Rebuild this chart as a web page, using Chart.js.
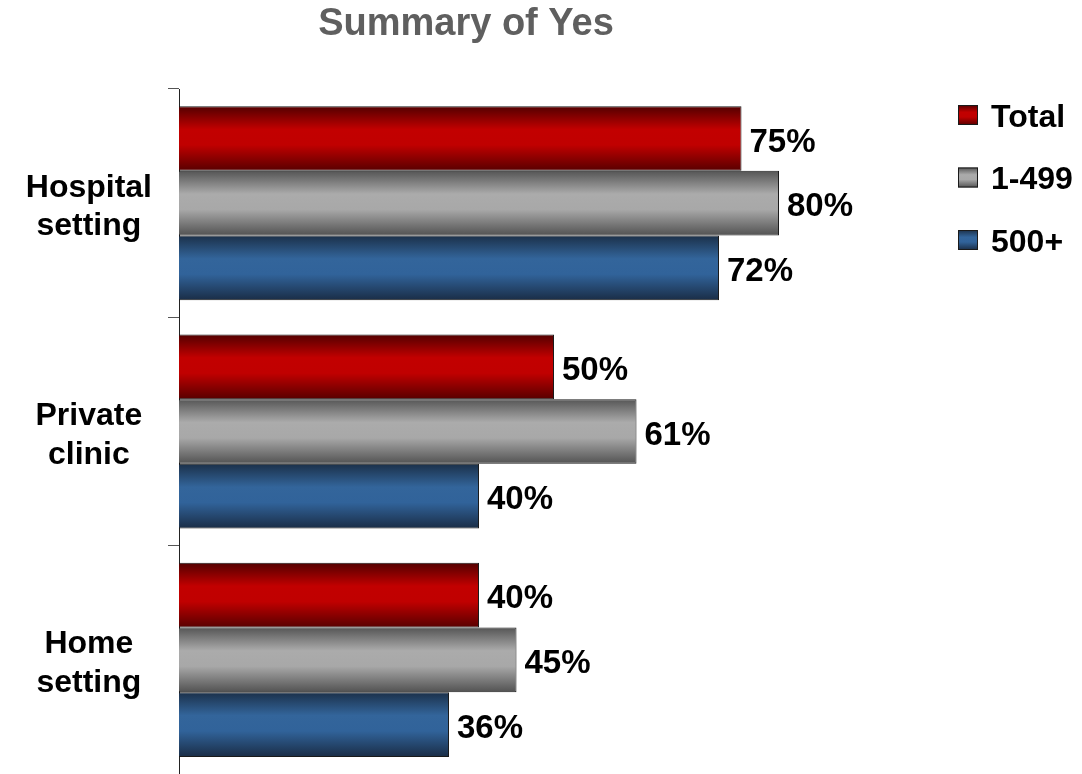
<!DOCTYPE html>
<html>
<head>
<meta charset="utf-8">
<title>Summary of Yes</title>
<script src="https://cdn.jsdelivr.net/npm/chart.js@4.4.1/dist/chart.umd.min.js"></script>
<style>
  html, body { margin: 0; padding: 0; background: #ffffff; }
  #wrap { width: 1082px; height: 774px; position: relative; }
</style>
</head>
<body>
<div id="wrap"><canvas id="chart"></canvas></div>
<script>
// Survey categories (two-line axis labels) and the three respondent groups
const categories = [['Hospital', 'setting'], ['Private', 'clinic'], ['Home', 'setting']];
const seriesNames = ['Total', '1-499', '500+'];
const totalValues = [75, 50, 40];
const smallValues = [80, 61, 45];
const largeValues = [72, 40, 36];
const chartTitle = 'Summary of Yes';

const FONT = '"Liberation Sans", Arial, Helvetica, sans-serif';

// Shaded "cylinder" fills: dark edge -> bright middle -> dark edge
const shades = [
  ['#520000', '#c20000', '#c00000', '#580000'],
  ['#555555', '#ababab', '#a8a8a8', '#525252'],
  ['#1b3049', '#33659b', '#31639a', '#1a2d46']
];

const CAT_PCT = 0.85;

function shadedFill(stops, y0, y1, ctx) {
  const g = ctx.createLinearGradient(0, y0, 0, y1);
  g.addColorStop(0, stops[0]);
  g.addColorStop(0.36, stops[1]);
  g.addColorStop(0.6, stops[2]);
  g.addColorStop(1, stops[3]);
  return g;
}

// Gradient for each bar, spanning that bar's own thickness
function barFill(seriesIdx) {
  return (c) => {
    const chart = c.chart;
    const ys = chart.scales.y;
    const stops = shades[seriesIdx];
    if (c.type !== 'data' || !ys || !chart.chartArea) return stops[1];
    const n = chart.data.datasets.length;
    const band = Math.abs(ys.getPixelForValue(1) - ys.getPixelForValue(0));
    const thick = band * CAT_PCT / n;
    const center = ys.getPixelForValue(c.dataIndex) + (c.datasetIndex - (n - 1) / 2) * thick;
    return shadedFill(stops, center - thick / 2, center + thick / 2, chart.ctx);
  };
}

// Chart heading, placed over the plot
const headingPlugin = {
  id: 'heading',
  afterDraw(chart) {
    const ctx = chart.ctx;
    ctx.save();
    ctx.font = 'bold 38px ' + FONT;
    ctx.fillStyle = '#5f5f5f';
    ctx.textAlign = 'center';
    ctx.textBaseline = 'middle';
    ctx.fillText(chartTitle, 466, 25);
    ctx.restore();
  }
};

// Value labels at the end of each bar
const valueLabelPlugin = {
  id: 'valueLabels',
  afterDatasetsDraw(chart) {
    const ctx = chart.ctx;
    ctx.save();
    ctx.font = 'bold 33px ' + FONT;
    ctx.fillStyle = '#000000';
    ctx.textAlign = 'left';
    ctx.textBaseline = 'middle';
    chart.data.datasets.forEach((ds, di) => {
      const meta = chart.getDatasetMeta(di);
      if (meta.hidden) return;
      meta.data.forEach((el, i) => {
        ctx.fillText(ds.data[i] + '%', el.x + 8, el.y + 4);
      });
    });
    ctx.restore();
  }
};

// Legend with shaded swatches on the right
const swatchLegendPlugin = {
  id: 'swatchLegend',
  afterDraw(chart) {
    const ctx = chart.ctx;
    const x = 958, box = 20, firstY = 115, step = 62.5;
    ctx.save();
    chart.data.datasets.forEach((ds, di) => {
      const cy = firstY + di * step;
      const top = cy - box / 2;
      ctx.fillStyle = shadedFill(shades[di], top, top + box, ctx);
      ctx.fillRect(x, top, box, box);
      ctx.lineWidth = 1;
      ctx.strokeStyle = '#1a1a1a';
      ctx.strokeRect(x + 0.5, top + 0.5, box - 1, box - 1);
      ctx.font = 'bold 32px ' + FONT;
      ctx.fillStyle = '#000000';
      ctx.textAlign = 'left';
      ctx.textBaseline = 'middle';
      ctx.fillText(ds.label, x + box + 13, cy + 3);
    });
    ctx.restore();
  }
};

const seriesValues = [totalValues, smallValues, largeValues];

new Chart(document.getElementById('chart'), {
  type: 'bar',
  data: {
    labels: categories,
    datasets: seriesValues.map((vals, i) => ({
      label: seriesNames[i],
      data: vals,
      backgroundColor: barFill(i),
      borderColor: '#1a1a1a',
      borderWidth: 1,
      borderSkipped: 'start',
      barPercentage: 1,
      categoryPercentage: CAT_PCT
    }))
  },
  options: {
    indexAxis: 'y',
    responsive: true,
    maintainAspectRatio: false,
    animation: false,
    layout: { padding: { top: 89, right: 153, bottom: -3, left: 0 } },
    plugins: {
      legend: { display: false },
      title: { display: false },
      tooltip: { enabled: false }
    },
    scales: {
      x: {
        display: false,
        min: 0,
        max: 100
      },
      y: {
        afterFit(scale) {
          scale.width = 179;
          scale.paddingTop = 0;
          scale.paddingBottom = 0;
        },
        grid: {
          offset: true,
          drawOnChartArea: false,
          drawTicks: true,
          tickLength: 11,
          color: '#555555'
        },
        border: { display: true, color: '#222222', width: 1 },
        ticks: {
          crossAlign: 'center',
          padding: 16,
          labelOffset: 4,
          color: '#000000',
          font: { family: FONT, size: 32, weight: 'bold', lineHeight: 1.2 }
        }
      }
    }
  },
  plugins: [valueLabelPlugin, swatchLegendPlugin, headingPlugin]
});
</script>
</body>
</html>
